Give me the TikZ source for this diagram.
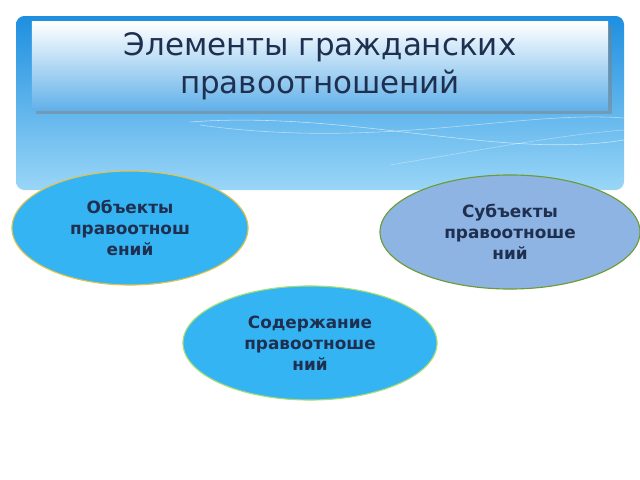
\documentclass[tikz,border=0pt]{standalone}
\usepackage{fontspec}
\setmainfont{DejaVu Sans}
\usetikzlibrary{shapes.geometric,shadows}
\definecolor{banner}{HTML}{1E8FE0}
\definecolor{bannerlight}{HTML}{9AD6F7}
\definecolor{oval}{HTML}{35B4F4}
\definecolor{ovalgrey}{HTML}{8EB4E3}
\definecolor{ink}{HTML}{1F2F4F}
\definecolor{rimgold}{HTML}{E3C24A}
\definecolor{rimgreen}{HTML}{6E9B33}
\definecolor{rimlight}{HTML}{A6DE72}
\tikzset{
  element/.style={ellipse,align=center,font=\bfseries\fontsize{12}{15}\selectfont,
    text=ink,thick,inner sep=0pt}
}

\begin{document}
\begin{tikzpicture}[x=0.025cm,y=-0.025cm]
  \useasboundingbox (0,0) rectangle (640,480);
  \fill[white] (0,0) rectangle (640,480);

  % banner
  \shade[rounded corners=6pt,top color=banner,bottom color=bannerlight]
    (16,16) rectangle (624,190);
  \draw[white,opacity=0.6] (190,122) .. controls (350,110) and (500,160) .. (624,140);
  \draw[white,opacity=0.5] (200,125) .. controls (380,150) and (520,110) .. (624,118);
  \draw[white,opacity=0.4] (390,165) .. controls (480,150) and (560,135) .. (624,130);
  \node[rectangle,minimum width=14.4cm,minimum height=2.2cm,
    top color=white,bottom color=banner!70,drop shadow,
    align=center,font=\fontsize{22}{27}\selectfont,text=ink] (title) at (320,66)
    {Элементы гражданских\\правоотношений};

  % elements
  \node[element,fill=oval,draw=rimgold,minimum width=5.9cm,minimum height=2.85cm]
    (objects) at (130,228) {Объекты\\правоотнош\\ений};
  \node[element,fill=ovalgrey,draw=rimgreen,minimum width=6.5cm,minimum height=2.85cm]
    (subjects) at (510,232) {Субъекты\\правоотноше\\ний};
  \node[element,fill=oval,draw=rimlight,minimum width=6.35cm,minimum height=2.85cm]
    (content) at (310,343) {Содержание\\правоотноше\\ний};

\end{tikzpicture}
\end{document}
